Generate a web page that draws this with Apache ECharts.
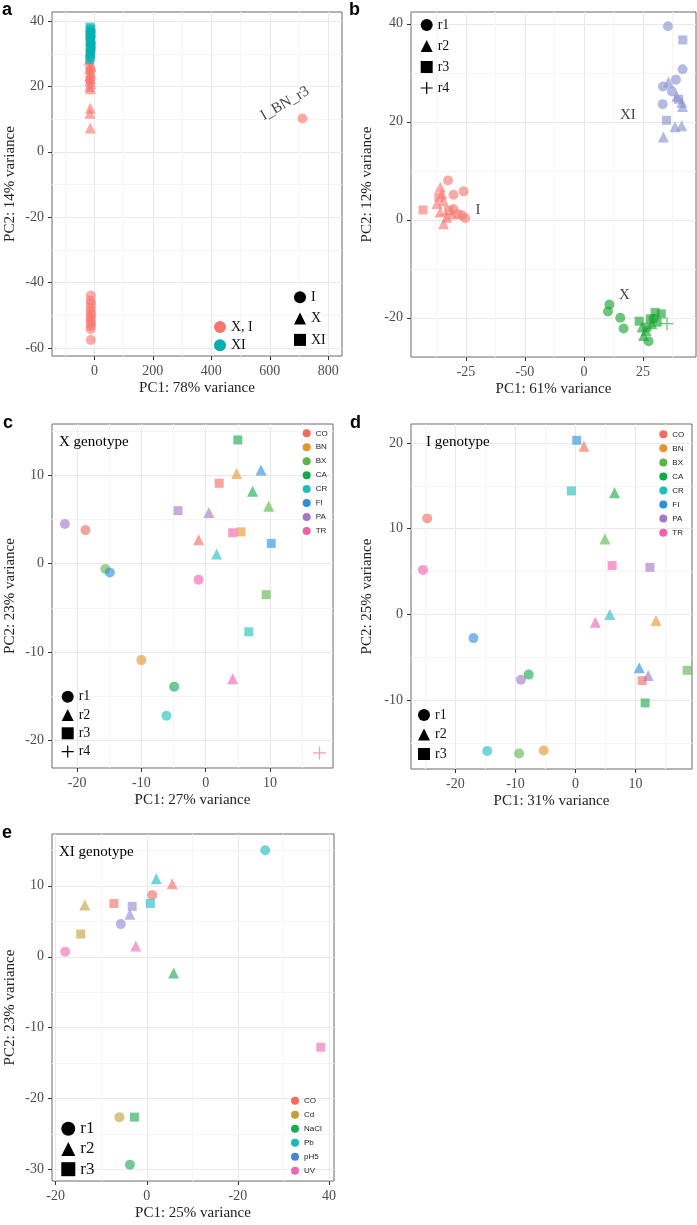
<!DOCTYPE html>
<html>
<head>
<meta charset="utf-8">
<script src="https://cdn.jsdelivr.net/npm/echarts@6/dist/echarts.min.js"></script>
<style>
  html, body { margin: 0; padding: 0; background: #fff; }
  #chart { width: 697px; height: 1225px; }
</style>
</head>
<body>
<div id="chart"></div>
<script>
/* PCA panels a-e: genotype overview plus per-genotype treatment plots */

// ---- data ----
// panel a: [colour group, genotype, PC1, PC2]
const aPoints = [
  ['XI', 'XI', -15, 38.2], ['XI', 'XI', -12, 37.6], ['XI', 'XI', -14, 37.0], ['XI', 'XI', -11, 36.3],
  ['XI', 'XI', -16, 35.7], ['XI', 'XI', -13, 35.0], ['XI', 'XI', -12, 34.3], ['XI', 'XI', -15, 33.7],
  ['XI', 'XI', -13, 33.0], ['XI', 'XI', -11, 32.4], ['XI', 'XI', -14, 31.8], ['XI', 'XI', -12, 31.1],
  ['XI', 'XI', -15, 30.4], ['XI', 'XI', -13, 29.8], ['XI', 'XI', -14, 29.0], ['XI', 'XI', -16, 28.3],
  ['X, I', 'X', -18, 28.0], ['X, I', 'X', -15, 27.0], ['X, I', 'X', -12, 26.2], ['X, I', 'X', -17, 25.4],
  ['X, I', 'X', -14, 24.6], ['X, I', 'X', -11, 23.9], ['X, I', 'X', -16, 23.1], ['X, I', 'X', -13, 22.4],
  ['X, I', 'X', -15, 21.6], ['X, I', 'X', -12, 20.8], ['X, I', 'X', -16, 20.0], ['X, I', 'X', -14, 19.3],
  ['X, I', 'X', -14, 13.3], ['X, I', 'X', -15, 11.8], ['X, I', 'X', -14, 7.3],
  ['X, I', 'I', -13, 25.0], ['X, I', 'I', -15, 22.0],
  ['X, I', 'I', -12, -44.0], ['X, I', 'I', -13, -45.6], ['X, I', 'I', -11, -46.5], ['X, I', 'I', -12, -47.8],
  ['X, I', 'I', -13, -48.9], ['X, I', 'I', -11, -49.8], ['X, I', 'I', -12, -50.7], ['X, I', 'I', -13, -51.6],
  ['X, I', 'I', -11, -52.4], ['X, I', 'I', -12, -53.3], ['X, I', 'I', -13, -54.2], ['X, I', 'I', -12, -57.6],
  ['X, I', 'I', 712, 10.2]
];
const aLabel = ['I_BN_r3', 652, 14.8];
const aGroups = ['X, I', 'XI'];
const aGenotypes = ['I', 'X', 'XI'];

// panel b: [genotype, replicate, PC1, PC2]
const bPoints = [
  ['I', 'r1', -57.6, 8.0], ['I', 'r1', -55.3, 5.1], ['I', 'r1', -51.0, 5.8], ['I', 'r1', -51.7, 0.9],
  ['I', 'r1', -50.3, 0.3], ['I', 'r1', -55.3, 2.2], ['I', 'r1', -53.5, 1.2],
  ['I', 'r2', -60.9, 6.7], ['I', 'r2', -60.2, 5.3], ['I', 'r2', -62.3, 3.3], ['I', 'r2', -59.5, 3.9],
  ['I', 'r2', -60.9, 1.6], ['I', 'r2', -58.1, 0.5], ['I', 'r2', -59.5, -0.8], ['I', 'r2', -55.9, 1.2],
  ['I', 'r3', -68.2, 2.0], ['I', 'r3', -57.4, 1.9], ['I', 'r3', -61.5, 4.6], ['I', 'r4', -58.5, 1.0],
  ['X', 'r1', 10.8, -17.3], ['X', 'r1', 10.2, -18.7], ['X', 'r1', 15.4, -20.0], ['X', 'r1', 16.8, -22.2],
  ['X', 'r1', 27.4, -24.8], ['X', 'r1', 29.5, -20.2],
  ['X', 'r2', 26.4, -22.6], ['X', 'r2', 25.3, -23.6], ['X', 'r2', 28.8, -21.2], ['X', 'r2', 24.6, -21.9],
  ['X', 'r3', 23.4, -20.7], ['X', 'r3', 30.2, -18.9], ['X', 'r3', 32.8, -19.2], ['X', 'r3', 28.1, -20.2],
  ['X', 'r3', 31.0, -20.9], ['X', 'r3', 26.7, -21.9], ['X', 'r4', 35.2, -21.2],
  ['XI', 'r1', 35.6, 39.5], ['XI', 'r1', 41.8, 30.7], ['XI', 'r1', 39.0, 28.6], ['XI', 'r1', 33.5, 27.2],
  ['XI', 'r1', 37.3, 26.2], ['XI', 'r1', 33.4, 23.6],
  ['XI', 'r2', 35.9, 28.1], ['XI', 'r2', 39.4, 25.2], ['XI', 'r2', 41.5, 24.0], ['XI', 'r2', 41.8, 23.1],
  ['XI', 'r2', 38.6, 19.0], ['XI', 'r2', 41.4, 19.2], ['XI', 'r2', 33.7, 16.9],
  ['XI', 'r3', 41.9, 36.7], ['XI', 'r3', 40.1, 24.6], ['XI', 'r3', 35.0, 20.3]
];
const bLabels = [['I', -44.9, 2.0], ['X', 17.2, -15.4], ['XI', 18.6, 21.3]];
const bXTicks = [-50, -25, 0, 25];
const bXTickLabels = ['-25', '-50', '0', '25'];

// panels c, d: [treatment, replicate, PC1, PC2]
const cdConditions = ['CO', 'BN', 'BX', 'CA', 'CR', 'FI', 'PA', 'TR'];
const cPoints = [
  ['PA', 'r1', -21.9, 4.5], ['CO', 'r1', -18.7, 3.8], ['BX', 'r1', -15.6, -0.6], ['FI', 'r1', -14.9, -1.0],
  ['TR', 'r1', -1.1, -1.8], ['BN', 'r1', -10.0, -10.9], ['CA', 'r1', -4.9, -13.9], ['CR', 'r1', -6.1, -17.2],
  ['BN', 'r2', 4.8, 10.2], ['FI', 'r2', 8.6, 10.6], ['CA', 'r2', 7.3, 8.2], ['BX', 'r2', 9.8, 6.5],
  ['PA', 'r2', 0.5, 5.8], ['CO', 'r2', -1.1, 2.7], ['CR', 'r2', 1.7, 1.1], ['TR', 'r2', 4.2, -13.0],
  ['CA', 'r3', 5.0, 14.0], ['CO', 'r3', 2.1, 9.1], ['PA', 'r3', -4.3, 6.0], ['TR', 'r3', 4.2, 3.5],
  ['BN', 'r3', 5.5, 3.6], ['FI', 'r3', 10.2, 2.3], ['BX', 'r3', 9.4, -3.5], ['CR', 'r3', 6.7, -7.7],
  ['CO', 'r4', 17.7, -21.4]
];
const dPoints = [
  ['CO', 'r1', -24.7, 11.2], ['TR', 'r1', -25.4, 5.2], ['FI', 'r1', -17.0, -2.75], ['CA', 'r1', -7.8, -7.0],
  ['PA', 'r1', -9.1, -7.6], ['CR', 'r1', -14.7, -15.9], ['BX', 'r1', -9.4, -16.2], ['BN', 'r1', -5.3, -15.85],
  ['CO', 'r2', 1.4, 19.6], ['CA', 'r2', 6.5, 14.2], ['BX', 'r2', 4.9, 8.8], ['CR', 'r2', 5.7, 0.0],
  ['TR', 'r2', 3.3, -0.9], ['BN', 'r2', 13.4, -0.7], ['FI', 'r2', 10.6, -6.2], ['PA', 'r2', 12.1, -7.1],
  ['FI', 'r3', 0.2, 20.3], ['CR', 'r3', -0.7, 14.4], ['TR', 'r3', 6.1, 5.7], ['PA', 'r3', 12.4, 5.5],
  ['CO', 'r3', 11.1, -7.7], ['BX', 'r3', 18.6, -6.5], ['CA', 'r3', 11.6, -10.3]
];

// panel e: [treatment, replicate, PC1, PC2]
const eConditions = ['CO', 'Cd', 'NaCl', 'Pb', 'pH5', 'UV'];
const ePoints = [
  ['Pb', 'r1', 26.0, 15.0], ['CO', 'r1', 1.2, 8.7], ['pH5', 'r1', -5.7, 4.6], ['UV', 'r1', -17.9, 0.7],
  ['Cd', 'r1', -6.0, -22.6], ['NaCl', 'r1', -3.7, -29.3],
  ['Pb', 'r2', 2.1, 11.0], ['CO', 'r2', 5.6, 10.3], ['Cd', 'r2', -13.6, 7.3], ['pH5', 'r2', -3.7, 6.0],
  ['UV', 'r2', -2.4, 1.5], ['NaCl', 'r2', 5.9, -2.3],
  ['CO', 'r3', -7.2, 7.5], ['pH5', 'r3', -3.2, 7.1], ['Pb', 'r3', 0.8, 7.5], ['Cd', 'r3', -14.5, 3.2],
  ['UV', 'r3', 38.2, -12.75], ['NaCl', 'r3', -2.7, -22.6]
];
const eXTicks = [-20, 0, 20, 40];
const eXTickLabels = ['-20', '0', '-20', '40'];

// axis ranges, major ticks and the faint minor grid lines
const xRanges = [[-145, 847], [-73.3, 47.5], [-23.9, 19.8], [-27.4, 19.4], [-20.8, 41.1]];
const yRanges = [[-62.5, 42.8], [-28, 42.4], [-23.1, 15.8], [-18.0, 22.2], [-31.6, 17.3]];
const xMajor = [[0, 200, 400, 600, 800], bXTicks, [-20, -10, 0, 10], [-20, -10, 0, 10], eXTicks];
const yMajor = [[-60, -40, -20, 0, 20, 40], [-20, 0, 20, 40], [-20, -10, 0, 10], [-10, 0, 10, 20], [-30, -20, -10, 0, 10]];
const xMinor = [[-100, 100, 300, 500, 700], [-62.5, -37.5, -12.5, 12.5, 37.5], [-15, -5, 5, 15], [-25, -15, -5, 5, 15], [-10, 10, 30]];
const yMinor = [[-50, -30, -10, 10, 30], [-10, 10, 30], [-15, -5, 5, 15], [-15, -5, 5, 15], [-25, -15, -5, 5, 15]];
const xNames = ['PC1: 78% variance', 'PC1: 61% variance', 'PC1: 27% variance', 'PC1: 31% variance', 'PC1: 25% variance'];
const yNames = ['PC2: 14% variance', 'PC2: 12% variance', 'PC2: 23% variance', 'PC2: 25% variance', 'PC2: 23% variance'];
const xTickText = [null, bXTickLabels, null, null, eXTickLabels];

// ---- styling ----
const SERIF = "'Liberation Serif', 'DejaVu Serif', serif";
const SANS = "'Liberation Sans', Arial, sans-serif";
const PLUS = 'path://M9,0h2v20h-2zM0,9h20v2h-20z';
const SHAPE = { r1: 'circle', r2: 'triangle', r3: 'rect', r4: PLUS, I: 'circle', X: 'triangle', XI: 'rect' };
const SIZE = { circle: 10, triangle: 11, rect: 9 };
const sizeOf = s => SIZE[s] || 13;

const COLORS = {
  'X, I': '#F8766D', 'XI': '#00AFAF',
  'b-I': '#F8766D', 'b-X': '#14A22E', 'b-XI': '#8890CE',
  CO: '#F26B62', BN: '#E3952B', BX: '#5DB548', CA: '#15A94F', CR: '#21BDBD',
  FI: '#2B90DC', PA: '#A678C4', TR: '#F062A8',
  Cd: '#C3A03A', NaCl: '#1AAA50', Pb: '#1CB9C0', pH5: '#8E8AD2', UV: '#EA6AB2'
};
const LEGEND_COLORS = { pH5: '#4A86D0' };

const chart = echarts.init(document.getElementById('chart'), null, { renderer: 'canvas' });

const grids = [
  { left: 52, top: 12, width: 290, height: 344 },
  { left: 411, top: 12, width: 285, height: 345 },
  { left: 52, top: 424, width: 281, height: 344 },
  { left: 411, top: 424, width: 281, height: 345 },
  { left: 52, top: 834, width: 282, height: 347 }
].map(g => ({ ...g, show: true, borderColor: '#6a6a6a', borderWidth: 1, backgroundColor: '#fff' }));

function makeAxis(gridIndex, range, ticks, labels, name, nameGap, position) {
  const lab = labels || ticks.map(String);
  return {
    type: 'value', gridIndex, min: range[0], max: range[1], position,
    name, nameLocation: 'middle', nameGap,
    nameTextStyle: { fontFamily: SERIF, fontSize: 15, color: '#222' },
    axisLine: { show: false, onZero: false },
    axisTick: { show: true, length: 4, lineStyle: { color: '#333' }, customValues: ticks },
    axisLabel: {
      customValues: ticks, fontFamily: SERIF, fontSize: 14, color: '#4d4d4d',
      formatter: v => {
        let best = 0;
        ticks.forEach((t, i) => { if (Math.abs(t - v) < Math.abs(ticks[best] - v)) best = i; });
        return lab[best];
      }
    },
    splitLine: { show: true, lineStyle: { color: '#e9e9e9', width: 1 } }
  };
}

// second axis on each grid that only draws the minor grid lines
function minorAxis(gridIndex, range, values, position) {
  return {
    type: 'value', gridIndex, min: range[0], max: range[1], position,
    axisLine: { show: false, onZero: false },
    axisTick: { show: false, customValues: values },
    axisLabel: { show: false, customValues: values },
    splitLine: { show: true, lineStyle: { color: '#f4f4f4', width: 1 } }
  };
}

const xAxes = xRanges.map((r, i) => makeAxis(i, r, xMajor[i], xTickText[i], xNames[i], 25, 'bottom'))
  .concat(xRanges.map((r, i) => minorAxis(i, r, xMinor[i], 'top')));
const yAxes = yRanges.map((r, i) => makeAxis(i, r, yMajor[i], null, yNames[i], i % 2 ? 36 : 34, 'left'))
  .concat(yRanges.map((r, i) => minorAxis(i, r, yMinor[i], 'right')));

// build one scatter series per colour group of a panel
function groupSeries(points, gridIndex, groups, prefix) {
  return groups.map(g => ({
    type: 'scatter', name: prefix + g, xAxisIndex: gridIndex, yAxisIndex: gridIndex,
    itemStyle: { color: COLORS[prefix + g] || COLORS[g], opacity: 0.62 },
    emphasis: { disabled: true },
    data: points.filter(p => p[0] === g).map(p => {
      const s = SHAPE[p[1]];
      return { value: [p[2], p[3]], symbol: s, symbolSize: sizeOf(s) };
    })
  }));
}

function textSeries(items, gridIndex, opts) {
  return {
    type: 'scatter', xAxisIndex: gridIndex, yAxisIndex: gridIndex, silent: true,
    symbolSize: 0.01, itemStyle: { color: 'rgba(0,0,0,0)' },
    label: Object.assign({ show: true, position: 'inside', formatter: '{b}', fontFamily: SERIF, fontSize: 15, color: '#111' }, opts || {}),
    data: items.map(t => ({ name: t[0], value: [t[1], t[2]] }))
  };
}

// empty series only used as legend entries
const dummyNames = ['I', 'X', 'r1', 'r2', 'r3', 'r4'];
const dummySeries = dummyNames.map(n => ({ type: 'scatter', name: n, xAxisIndex: 0, yAxisIndex: 0, data: [] }));

const series = [
  ...groupSeries(aPoints, 0, aGroups, ''),
  textSeries([aLabel], 0, { rotate: 30 }),
  ...groupSeries(bPoints, 1, ['I', 'X', 'XI'], 'b-'),
  textSeries(bLabels, 1),
  ...groupSeries(cPoints, 2, cdConditions, ''),
  ...groupSeries(dPoints, 3, cdConditions, 'd-'),
  ...groupSeries(ePoints, 4, eConditions, ''),
  ...dummySeries
];

function shapeLegend(names, icons, left, top, gap, fontSize, iconSize, lineHeight) {
  return {
    orient: 'vertical', left, top, padding: 0, itemGap: gap,
    itemWidth: iconSize, itemHeight: iconSize, selectedMode: false,
    textStyle: { fontFamily: SERIF, fontSize, lineHeight, color: '#111' },
    data: names.map((n, i) => ({ name: n, icon: icons[i], itemStyle: { color: '#000', opacity: 1, borderWidth: 0 } }))
  };
}
function colorLegend(names, labelNames, left, top, gap) {
  return {
    orient: 'vertical', left, top, padding: 0, itemGap: gap,
    itemWidth: 8, itemHeight: 8, selectedMode: false,
    textStyle: { fontFamily: SANS, fontSize: 8, lineHeight: 10, color: '#222' },
    formatter: n => labelNames[names.indexOf(n)],
    data: names.map((n, i) => ({
      name: n, icon: 'circle',
      itemStyle: { color: LEGEND_COLORS[labelNames[i]] || COLORS[labelNames[i]], opacity: 1, borderWidth: 0 }
    }))
  };
}

const legends = [
  {
    orient: 'vertical', left: 214, top: 320, padding: 0, itemGap: 4.3,
    itemWidth: 12, itemHeight: 12, selectedMode: false,
    textStyle: { fontFamily: SERIF, fontSize: 14, lineHeight: 14, color: '#111' },
    data: aGroups.map(g => ({ name: g, icon: 'circle', itemStyle: { color: COLORS[g], opacity: 1 } }))
  },
  shapeLegend(aGenotypes, ['circle', 'triangle', 'rect'], 294, 290.3, 7.3, 14, 12, 14),
  shapeLegend(['r1', 'r2', 'r3', 'r4'], ['circle', 'triangle', 'rect', PLUS], 420.7, 18, 7, 14, 12, 14),
  colorLegend(cdConditions, cdConditions, 302.7, 428.3, 3.95),
  shapeLegend(['r1', 'r2', 'r3', 'r4'], ['circle', 'triangle', 'rect', PLUS], 61.7, 689.7, 4.3, 14, 12, 14),
  colorLegend(cdConditions.map(n => 'd-' + n), cdConditions, 659.3, 429.3, 4.05),
  shapeLegend(['r1', 'r2', 'r3'], ['circle', 'triangle', 'rect'], 418, 708, 5.5, 14, 12, 14),
  colorLegend(eConditions, eConditions, 291, 1095.7, 4),
  shapeLegend(['r1', 'r2', 'r3'], ['circle', 'triangle', 'rect'], 61.3, 1120.3, 3.2, 17, 14, 16)
];

function panelText(text, x, y, bold, size, font) {
  return {
    type: 'text', x, y, z: 100, silent: true,
    style: { text, fontFamily: font, fontSize: size, fontWeight: bold ? 'bold' : 'normal', fill: '#000', verticalAlign: 'bottom' }
  };
}
const graphics = [
  panelText('a', 2, 19, true, 18, SANS),
  panelText('b', 349, 19, true, 18, SANS),
  panelText('c', 3, 432, true, 18, SANS),
  panelText('d', 350, 432, true, 18, SANS),
  panelText('e', 2, 842, true, 18, SANS),
  panelText('X genotype', 59, 450, false, 15, SERIF),
  panelText('I genotype', 426, 450, false, 15, SERIF),
  panelText('XI genotype', 59, 860, false, 15, SERIF)
];

chart.setOption({
  animation: false,
  backgroundColor: '#fff',
  grid: grids,
  xAxis: xAxes,
  yAxis: yAxes,
  legend: legends,
  graphic: { elements: graphics },
  series
});
</script>
</body>
</html>
